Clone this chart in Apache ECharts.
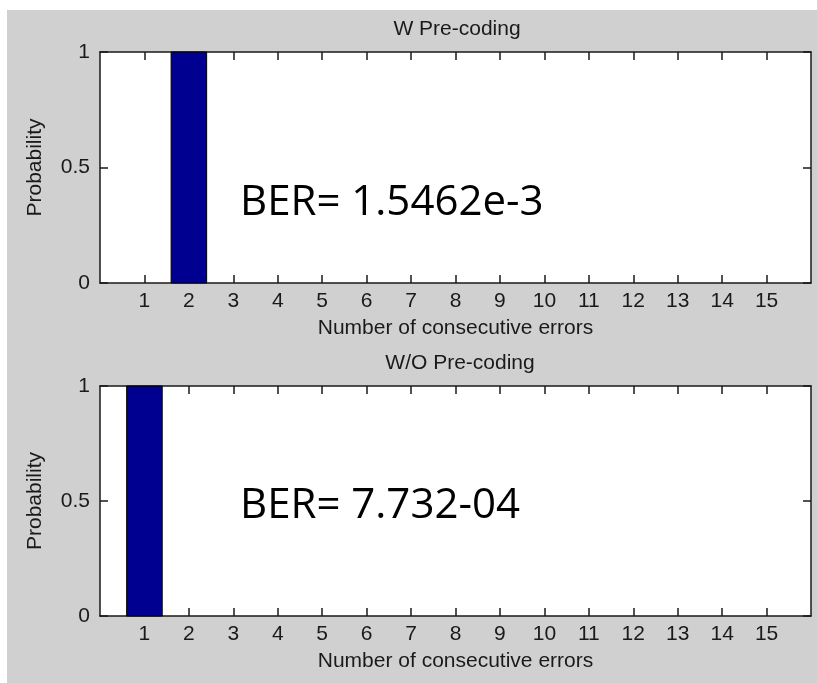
<!DOCTYPE html>
<html>
<head>
<meta charset="utf-8">
<script src="https://cdn.jsdelivr.net/npm/echarts@6/dist/echarts.min.js"></script>
<style>
html,body{margin:0;padding:0;background:#fff;}
#c{width:817px;height:683px;}
</style>
</head>
<body>
<div id="c"></div>
<script>
// ---- data ----
const counts = [1,2,3,4,5,6,7,8,9,10,11,12,13,14,15];
const probWithPrecoding = [0,1,0,0,0,0,0,0,0,0,0,0,0,0,0];
const probWithoutPrecoding = [1,0,0,0,0,0,0,0,0,0,0,0,0,0,0];
const xTickLabels = ['1','2','3','4','5','6','7','8','9','10','11','12','13','14','15'];
const yTickLabels = {0:'0', 0.5:'0.5', 1:'1'};
const titles = ['W Pre-coding', 'W/O Pre-coding'];
const berTexts = ['BER= 1.5462e-3', 'BER= 7.732-04'];

const chart = echarts.init(document.getElementById('c'), null, {renderer:'canvas'});
const FONT = 'Liberation Sans';
const FS = 21;
const AX = '#1a1a1a';
const TXT = '#1a1a1a';

const grids = [
  {left:100, top:52, width:711, height:231},
  {left:100, top:386, width:711, height:230}
];

function xAxes(gi){
  const base = {
    type:'value', gridIndex:gi, min:0, max:16, interval:1,
    axisLine:{show:true, onZero:false, lineStyle:{color:AX, width:1.5}},
    axisTick:{show:true, inside:true, length:8, lineStyle:{color:AX, width:1.5},
      customValues:counts},
    splitLine:{show:false}
  };
  return [
    Object.assign({}, base, {position:'bottom',
      name:'Number of consecutive errors', nameLocation:'middle', nameGap:35,
      nameTextStyle:{fontFamily:FONT, fontSize:FS, color:TXT},
      axisLabel:{show:true, margin:8, fontFamily:FONT, fontSize:FS, color:TXT,
        customValues:counts,
        formatter:(v)=> xTickLabels[counts.indexOf(v)] || ''}}),
    Object.assign({}, base, {position:'top', axisLabel:{show:false}})
  ];
}
function yAxes(gi){
  const base = {
    type:'value', gridIndex:gi, min:0, max:1, interval:0.5,
    axisLine:{show:true, onZero:false, lineStyle:{color:AX, width:1.5}},
    axisTick:{show:true, inside:true, length:8, lineStyle:{color:AX, width:1.5}},
    splitLine:{show:false}
  };
  return [
    Object.assign({}, base, {position:'left',
      name:'Probability', nameLocation:'middle', nameGap:54,
      nameTextStyle:{fontFamily:FONT, fontSize:FS, color:TXT},
      axisLabel:{show:true, margin:10, fontFamily:FONT, fontSize:FS, color:TXT,
        formatter:(v)=> yTickLabels[v]}}),
    Object.assign({}, base, {position:'right', axisLabel:{show:false}})
  ];
}

function barSeries(values, xi, yi){
  return {
    type:'custom', xAxisIndex:xi, yAxisIndex:yi,
    data: counts.map((c,i)=>[c, values[i]]),
    renderItem:(params, api)=>{
      const x = api.value(0), y = api.value(1);
      if (!y) return null;
      const p1 = api.coord([x-0.4, y]);
      const p2 = api.coord([x+0.4, 0]);
      return {type:'rect', shape:{x:p1[0], y:p1[1], width:p2[0]-p1[0], height:p2[1]-p1[1]},
        style:{fill:'#000090', stroke:'#000', lineWidth:1}};
    }
  };
}

const option = {
  backgroundColor:'#fff',
  animation:false,
  graphic:[
    {type:'rect', z:-100, silent:true, shape:{x:7, y:10, width:810, height:673}, style:{fill:'#d0d0d0'}},
    {type:'text', z:100, style:{text:berTexts[0], x:240, y:182, font:'42px "Open Sans"', fill:'#000', verticalAlign:'top'}},
    {type:'text', z:100, style:{text:berTexts[1], x:240, y:485, font:'42px "Open Sans"', fill:'#000', verticalAlign:'top'}}
  ],
  title:[
    {text:titles[0], left:452, top:14, textAlign:'center', textStyle:{fontFamily:FONT, fontSize:FS, fontWeight:'normal', color:TXT}},
    {text:titles[1], left:455, top:348, textAlign:'center', textStyle:{fontFamily:FONT, fontSize:FS, fontWeight:'normal', color:TXT}}
  ],
  grid: grids.map(g=>Object.assign({show:true, backgroundColor:'#fff', borderWidth:0}, g)),
  xAxis: [...xAxes(0), ...xAxes(1)],
  yAxis: [...yAxes(0), ...yAxes(1)],
  series:[
    barSeries(probWithPrecoding, 0, 0),
    barSeries(probWithoutPrecoding, 2, 2)
  ]
};
chart.setOption(option);
</script>
</body>
</html>
